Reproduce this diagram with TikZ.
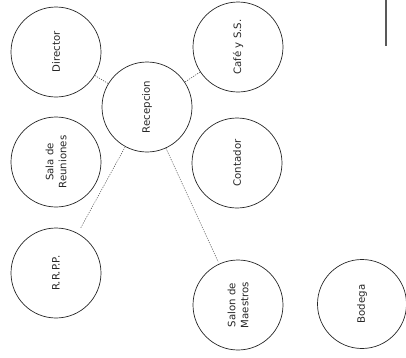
\documentclass[tikz,border=0pt]{standalone}
\usepackage{fontspec}
\setmainfont{DejaVu Sans}
\begin{document}
\begin{tikzpicture}[x=1bp,y=-1bp,
  room/.style={draw=black!85,line width=0.7bp,circle,minimum size=90bp,inner sep=0pt,
    rotate=90,align=center,text=black!85,font=\fontsize{10.2}{13}\selectfont},
  link/.style={draw=black!70,line width=0.5bp,dash pattern=on 1.2bp off 1.2bp}]
\useasboundingbox (0,0) rectangle (406,358);
\node[room] (dir) at (56,52) {Director};
\node[room] (rec) at (147,107) {Recepcion};
\node[room] (caf) at (238,47) {Café y S.S.};
\node[room] (sal) at (56,162) {Sala de\\Reuniones};
\node[room] (con) at (237,163) {Contador};
\node[room] (rrp) at (56,273) {R.R.P.P.};
\node[room] (mae) at (238,305) {Salon de\\Maestros};
\node[room,minimum size=89bp] (bod) at (362,304) {Bodega};
\coordinate (lt) at (386,0);
\coordinate (lb) at (386,46);
\draw[draw=black!65,line width=1.6bp] (lt) -- (lb);
\draw[link] (dir) -- (rec);
\draw[link] (caf) -- (rec);
\draw[link,shorten >=6bp] (rec) -- (rrp);
\draw[link,shorten >=2bp] (rec) -- (mae);
\end{tikzpicture}
\end{document}
